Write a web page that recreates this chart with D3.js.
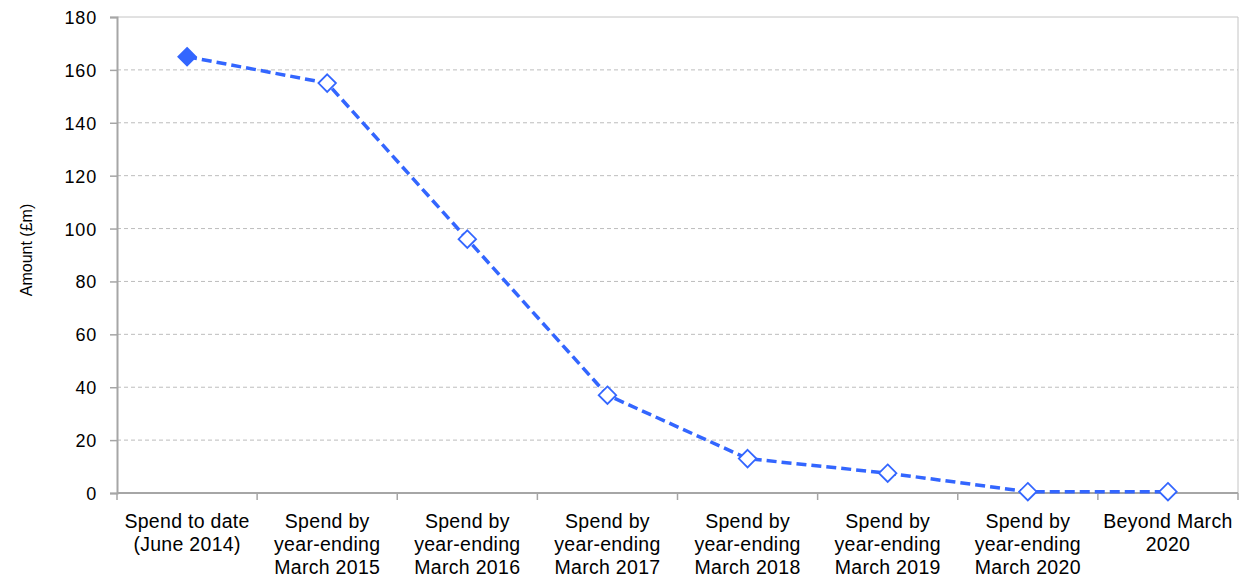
<!DOCTYPE html>
<html>
<head>
<meta charset="utf-8">
<script src="https://cdn.jsdelivr.net/npm/d3@7"></script>
<style>
  html, body { margin: 0; padding: 0; background: #fff; }
  svg { display: block; font-family: "Liberation Sans", Arial, sans-serif; }
</style>
</head>
<body>
<svg id="chart" width="1249" height="581"></svg>
<script>
// Spending profile (£m)
const categories = [
  ["Spend to date", "(June 2014)"],
  ["Spend by", "year-ending", "March 2015"],
  ["Spend by", "year-ending", "March 2016"],
  ["Spend by", "year-ending", "March 2017"],
  ["Spend by", "year-ending", "March 2018"],
  ["Spend by", "year-ending", "March 2019"],
  ["Spend by", "year-ending", "March 2020"],
  ["Beyond March", "2020"]
];
const amounts = [165, 155, 96, 37, 13, 7.5, 0.5, 0.5];
const yTicks = [0, 20, 40, 60, 80, 100, 120, 140, 160, 180];
const yLabel = "Amount (£m)";

const margin = { left: 117, right: 11, top: 17, bottom: 88 };
const W = 1249, H = 581;
const svg = d3.select("#chart");

const x = d3.scaleBand()
  .domain(d3.range(categories.length))
  .range([margin.left, W - margin.right]);
const y = d3.scaleLinear().domain([0, 180]).range([H - margin.bottom, margin.top]);

const blue = "#3366ff";
const grey = "#a6a6a6";

// Horizontal gridlines
svg.append("g")
  .selectAll("line")
  .data(yTicks.filter(d => d > 0 && d < 180))
  .join("line")
  .attr("x1", margin.left).attr("x2", W - margin.right)
  .attr("y1", d => y(d)).attr("y2", d => y(d))
  .attr("stroke", "#bdbdbd").attr("stroke-width", 1)
  .attr("stroke-dasharray", "4,3");

// Plot border (top and right)
svg.append("path")
  .attr("d", `M${margin.left},${y(180)}H${W - margin.right}V${y(0)}`)
  .attr("fill", "none").attr("stroke", "#c4c4c4").attr("stroke-width", 1);

// Y axis
const yAxis = svg.append("g")
  .attr("transform", `translate(${margin.left},0)`)
  .call(d3.axisLeft(y).tickValues(yTicks).tickSize(7).tickPadding(13));
yAxis.select(".domain").attr("stroke", grey).attr("stroke-width", 2);
yAxis.selectAll(".tick line").attr("stroke", grey).attr("stroke-width", 1.5);
yAxis.selectAll(".tick text")
  .attr("font-size", 18).attr("fill", "#000")
  .attr("letter-spacing", 0.8)
  .attr("dy", "0.36em")
  .attr("font-family", "Liberation Sans, Arial, sans-serif");

// X axis with ticks at category boundaries
const boundaries = d3.range(categories.length + 1).map(i => margin.left + i * x.bandwidth());
const xg = svg.append("g");
xg.append("line")
  .attr("x1", margin.left).attr("x2", W - margin.right)
  .attr("y1", y(0)).attr("y2", y(0))
  .attr("stroke", grey).attr("stroke-width", 2);
xg.selectAll("line.tk")
  .data(boundaries)
  .join("line").attr("class", "tk")
  .attr("x1", d => d).attr("x2", d => d)
  .attr("y1", y(0)).attr("y2", y(0) + 7)
  .attr("stroke", grey).attr("stroke-width", 1.5);

// Category labels
const labels = svg.append("g")
  .selectAll("text")
  .data(categories)
  .join("text")
  .attr("text-anchor", "middle")
  .attr("font-size", 19.5)
  .attr("letter-spacing", 0.3)
  .attr("fill", "#000")
  .attr("transform", (d, i) => `translate(${x(i) + x.bandwidth() / 2},528)`);
labels.selectAll("tspan")
  .data(d => d)
  .join("tspan")
  .attr("x", 0)
  .attr("y", (d, i) => i * 23)
  .text(d => d);

// Y axis title
svg.append("text")
  .attr("transform", `translate(31.5,250) rotate(-90)`)
  .attr("text-anchor", "middle")
  .attr("font-size", 16)
  .attr("fill", "#000")
  .text(yLabel);

// Line
const line = d3.line()
  .x((d, i) => x(i) + x.bandwidth() / 2)
  .y(d => y(d));
svg.append("path")
  .datum(amounts)
  .attr("d", line)
  .attr("fill", "none")
  .attr("stroke", blue)
  .attr("stroke-width", 3.5)
  .attr("stroke-dasharray", "10,5");

// Diamond markers: first is filled, the rest are open
const diamond = d3.symbol().type(d3.symbolDiamond2).size(195);
svg.append("g")
  .selectAll("path")
  .data(amounts)
  .join("path")
  .attr("d", diamond)
  .attr("transform", (d, i) => `translate(${x(i) + x.bandwidth() / 2},${y(d)})`)
  .attr("fill", (d, i) => i === 0 ? blue : "#fff")
  .attr("stroke", blue)
  .attr("stroke-width", 1.8);
</script>
</body>
</html>
